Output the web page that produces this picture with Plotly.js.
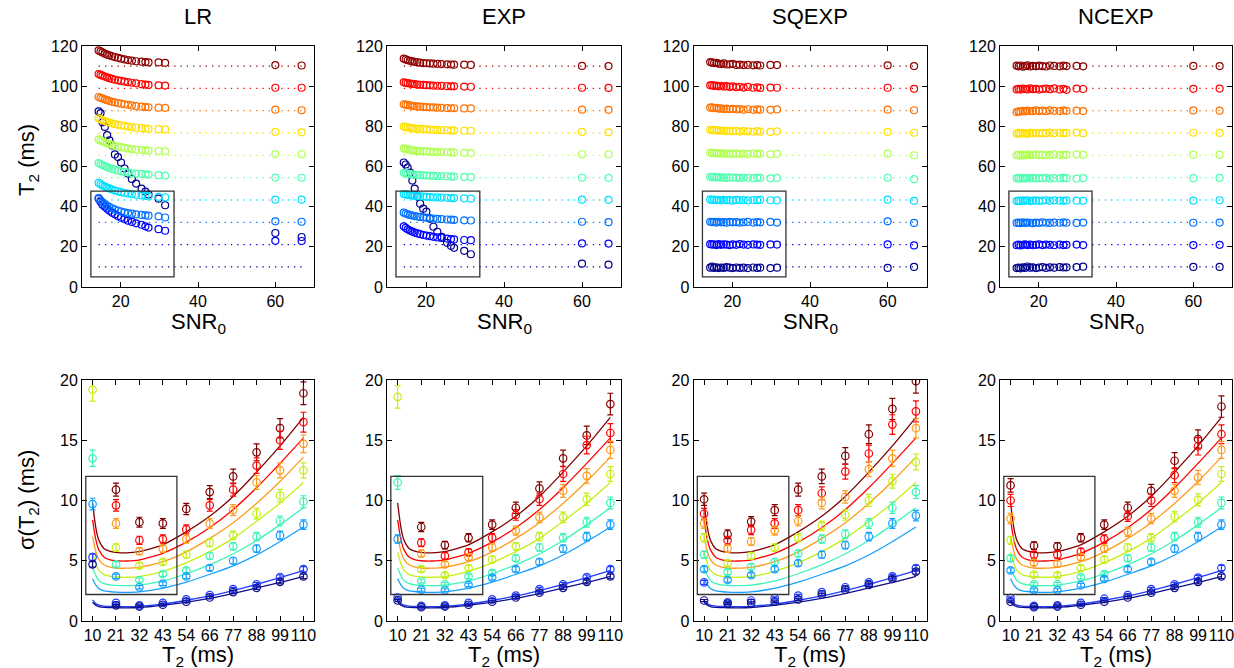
<!DOCTYPE html>
<html>
<head>
<meta charset="utf-8">
<script src="https://cdn.plot.ly/plotly-3.0.1.min.js"></script>
<style>html,body{margin:0;padding:0;background:#fff;}#chart{width:1234px;height:668px;}</style>
</head>
<body>
<div id="chart"></div>
<script>
// ---------- data ----------
const METHODS = ['LR', 'EXP', 'SQEXP', 'NCEXP'];
const SNR0 = [14.3, 14.8, 15.3, 15.9, 16.5, 17.1, 17.8, 18.5, 19.3, 20.1, 21.0, 21.9, 22.9, 24.0, 25.4, 26.4, 27.2, 29.8, 31.5, 60.0, 66.8];
const T2_TRUE = [10, 21.11, 32.22, 43.33, 54.44, 65.56, 76.67, 87.78, 98.89, 110];
const T2_TICKTEXT = ['10', '21', '32', '43', '54', '66', '77', '88', '99', '110'];

// estimated T2 (ms) vs SNR0, one row per true T2 (10 ... 110)
const LR_EST = [
  [87.4, 86.6, 82.0, 79.7, 75.6, 73.0, 70.5, 66.0, 64.7, 62.0, 59.0, 56.5, 53.8, 51.5, 49.0, 47.5, 46.0, 44.0, 40.7, 26.9, 24.9],
  [44.0, 42.5, 41.0, 40.0, 39.0, 38.0, 37.0, 36.2, 35.3, 34.5, 33.8, 33.0, 32.4, 31.7, 31.0, 30.2, 29.6, 28.8, 28.0, 23.0, 22.9],
  [44.3, 43.2, 42.2, 41.3, 40.5, 39.8, 39.2, 38.6, 38.1, 37.6, 37.2, 36.8, 36.5, 36.2, 35.9, 35.7, 35.5, 35.2, 34.6, 32.7, 32.5],
  [51.8, 51.2, 50.6, 50.0, 49.5, 49.0, 48.5, 48.0, 47.6, 47.2, 46.8, 46.5, 46.2, 45.9, 45.6, 45.3, 45.1, 44.9, 44.7, 43.5, 43.5],
  [61.7, 61.2, 60.7, 60.2, 59.7, 59.2, 58.8, 58.4, 58.0, 57.6, 57.3, 57.0, 56.7, 56.5, 56.3, 56.1, 56.0, 55.7, 55.5, 54.5, 54.4],
  [73.5, 73.0, 72.5, 72.0, 71.5, 71.1, 70.7, 70.3, 69.9, 69.6, 69.3, 69.0, 68.7, 68.4, 68.2, 68.0, 67.9, 67.7, 67.6, 66.2, 66.1],
  [84.0, 83.5, 83.0, 82.6, 82.2, 81.8, 81.4, 81.1, 80.8, 80.5, 80.2, 79.9, 79.6, 79.3, 79.1, 78.9, 78.8, 78.6, 78.5, 77.2, 77.0],
  [94.6, 94.2, 93.8, 93.4, 93.0, 92.6, 92.2, 91.9, 91.6, 91.3, 91.0, 90.7, 90.4, 90.1, 89.8, 89.6, 89.5, 89.3, 89.2, 88.3, 88.0],
  [106.0, 105.6, 105.2, 104.8, 104.4, 104.0, 103.6, 103.2, 102.9, 102.6, 102.3, 102.0, 101.7, 101.4, 101.0, 100.8, 100.6, 100.4, 100.3, 99.2, 99.2],
  [117.8, 117.3, 116.8, 116.2, 115.7, 115.3, 114.9, 114.5, 114.1, 113.7, 113.3, 113.0, 112.7, 112.4, 112.2, 112.0, 111.8, 111.8, 111.6, 110.5, 110.3]
];
const EXP_EST = [
  [62.0, 61.0, 59.5, 57.0, 53.0, 49.0, 45.0, 41.5, 39.0, 37.5, 34.0, 30.0, 27.5, 25.0, 22.0, 20.5, 19.5, 18.0, 16.3, 11.6, 11.1],
  [30.2, 29.4, 28.7, 28.1, 27.6, 27.1, 26.7, 26.3, 25.9, 25.6, 25.3, 25.0, 24.7, 24.4, 24.1, 23.9, 23.7, 23.4, 23.3, 21.7, 21.6],
  [37.0, 36.6, 36.2, 35.9, 35.6, 35.3, 35.1, 34.9, 34.7, 34.5, 34.3, 34.1, 33.9, 33.8, 33.6, 33.5, 33.4, 33.2, 33.1, 32.5, 32.3],
  [46.3, 46.1, 45.9, 45.7, 45.5, 45.4, 45.3, 45.1, 45.0, 44.9, 44.8, 44.7, 44.6, 44.5, 44.4, 44.3, 44.3, 44.1, 44.0, 43.5, 43.4],
  [56.9, 56.7, 56.4, 56.2, 56.0, 55.9, 55.8, 55.7, 55.6, 55.5, 55.4, 55.3, 55.2, 55.2, 55.1, 55.0, 55.0, 54.8, 54.7, 54.4, 54.3],
  [69.0, 68.8, 68.5, 68.3, 68.1, 67.9, 67.8, 67.7, 67.6, 67.5, 67.4, 67.3, 67.2, 67.2, 67.1, 67.0, 67.0, 66.8, 66.7, 66.1, 66.1],
  [79.9, 79.7, 79.5, 79.3, 79.1, 78.9, 78.8, 78.7, 78.6, 78.5, 78.4, 78.3, 78.2, 78.1, 78.0, 78.0, 77.9, 77.8, 77.8, 77.2, 77.0],
  [91.0, 90.8, 90.6, 90.4, 90.2, 90.0, 89.9, 89.8, 89.7, 89.6, 89.5, 89.4, 89.3, 89.2, 89.1, 89.0, 89.0, 88.9, 88.9, 88.3, 88.2],
  [101.9, 101.7, 101.5, 101.3, 101.1, 101.0, 100.8, 100.7, 100.6, 100.5, 100.4, 100.3, 100.2, 100.1, 100.0, 99.9, 99.9, 99.8, 99.7, 99.2, 99.1],
  [113.7, 113.3, 112.9, 112.6, 112.3, 112.1, 111.9, 111.7, 111.5, 111.4, 111.3, 111.2, 111.1, 111.0, 110.9, 110.8, 110.7, 110.7, 110.6, 110.1, 110.0]
];
const SQEXP_EST = [
  [9.6, 10.1, 9.5, 9.8, 9.4, 9.7, 9.5, 9.9, 9.6, 9.4, 9.7, 9.5, 9.6, 9.4, 9.7, 9.5, 9.6, 9.4, 9.6, 9.5, 10.0],
  [21.3, 21.1, 21.2, 20.9, 21.3, 21.0, 21.2, 21.1, 20.9, 21.2, 21.0, 21.3, 21.1, 21.0, 21.2, 21.1, 21.0, 21.2, 21.1, 21.2, 20.7],
  [32.5, 32.3, 32.4, 32.1, 32.5, 32.2, 32.3, 32.0, 32.4, 32.2, 32.3, 32.1, 32.2, 32.4, 32.1, 32.3, 32.2, 32.4, 32.1, 32.7, 31.9],
  [43.6, 43.3, 43.5, 43.2, 43.4, 43.1, 43.4, 43.2, 43.3, 43.0, 43.4, 43.2, 43.3, 43.1, 43.3, 43.2, 43.4, 43.2, 43.1, 43.5, 42.9],
  [54.9, 54.6, 54.8, 54.5, 54.7, 54.4, 54.6, 54.3, 54.6, 54.4, 54.5, 54.3, 54.5, 54.4, 54.2, 54.5, 54.3, 54.1, 54.3, 54.4, 53.7],
  [66.9, 66.6, 66.8, 66.5, 66.7, 66.4, 66.6, 66.3, 66.5, 66.2, 66.5, 66.3, 66.4, 66.2, 66.5, 66.3, 66.4, 66.1, 66.3, 66.4, 65.6],
  [78.3, 78.1, 78.2, 77.9, 78.0, 77.8, 77.9, 77.6, 77.8, 77.5, 77.7, 77.4, 77.6, 77.5, 77.3, 77.6, 77.4, 77.2, 77.5, 77.2, 76.8],
  [89.3, 89.4, 89.0, 89.2, 88.8, 88.9, 88.6, 88.8, 88.5, 88.7, 88.4, 88.6, 88.3, 88.5, 88.2, 88.4, 88.3, 88.2, 88.4, 88.3, 88.0],
  [100.4, 100.5, 100.1, 100.3, 99.9, 100.2, 99.8, 100.0, 99.6, 99.9, 99.5, 99.7, 99.3, 99.6, 99.2, 99.4, 99.1, 99.3, 99.2, 99.2, 98.7],
  [112.0, 111.8, 111.5, 111.6, 111.2, 111.0, 111.3, 110.8, 110.9, 111.1, 110.6, 110.7, 110.5, 110.6, 110.4, 110.5, 110.3, 110.6, 110.5, 110.4, 110.0]
];
const NCEXP_EST = [
  [9.4, 9.7, 9.3, 9.8, 9.5, 10.2, 9.6, 9.8, 9.4, 9.7, 9.9, 9.5, 9.8, 9.6, 9.9, 9.7, 9.8, 9.9, 10.1, 10.0, 10.0],
  [20.8, 21.1, 20.7, 21.0, 21.2, 20.9, 21.1, 20.8, 21.0, 21.2, 20.9, 21.1, 21.0, 20.8, 21.1, 20.9, 21.0, 21.1, 20.9, 20.9, 21.0],
  [31.9, 32.1, 31.8, 32.2, 31.9, 32.1, 32.0, 31.8, 32.1, 31.9, 32.2, 32.0, 31.9, 32.1, 32.0, 32.2, 32.0, 31.9, 32.1, 32.0, 32.1],
  [42.8, 43.0, 42.7, 43.1, 42.9, 43.2, 42.8, 43.0, 43.1, 42.9, 43.0, 43.2, 42.9, 43.1, 43.0, 42.9, 43.1, 43.0, 42.9, 43.0, 43.2],
  [54.1, 54.3, 53.9, 54.2, 54.0, 54.4, 54.1, 54.3, 54.0, 54.2, 54.1, 54.3, 54.0, 54.2, 54.1, 54.3, 54.2, 54.0, 54.2, 54.2, 54.3],
  [65.6, 65.9, 65.4, 65.8, 65.5, 66.0, 65.6, 65.8, 66.0, 65.7, 65.9, 65.6, 65.8, 66.0, 65.7, 65.9, 65.8, 66.0, 65.8, 65.9, 65.9],
  [76.4, 76.7, 76.3, 76.8, 76.5, 76.2, 76.7, 76.5, 76.8, 76.4, 76.7, 76.6, 76.9, 76.5, 76.8, 76.6, 76.7, 76.9, 76.6, 76.8, 76.7],
  [87.1, 87.5, 87.3, 87.7, 87.4, 87.8, 87.5, 87.6, 87.9, 87.6, 87.8, 87.5, 87.9, 87.7, 87.6, 87.9, 87.7, 87.8, 87.6, 87.9, 87.8],
  [98.4, 98.7, 98.3, 98.8, 98.6, 98.4, 98.9, 98.5, 98.7, 98.3, 98.6, 98.8, 98.5, 98.9, 98.4, 98.7, 98.2, 98.8, 98.6, 98.7, 98.8],
  [110.2, 109.9, 110.3, 109.7, 110.0, 110.4, 109.8, 110.1, 109.9, 110.2, 110.0, 109.8, 110.3, 110.1, 109.9, 110.2, 110.0, 110.1, 109.9, 110.1, 110.0]
];

// sigma(T2) (ms) vs true T2, one row per SNR series (low SNR first ... high SNR last)
const LR_SD = [
  [null, 10.9, 8.2, 8.1, 9.3, 10.7, 12.0, 14.0, 16.0, 18.9],
  [null, 9.6, 6.7, 6.8, 7.6, 9.6, 10.9, 12.9, 15.0, 16.5],
  [null, 8.1, 5.8, 6.0, 6.8, 8.1, 9.2, 11.5, 12.5, 14.7],
  [19.2, 6.1, 4.6, 4.9, 5.5, 6.5, 7.1, 8.9, 10.4, 12.5],
  [13.5, 4.7, 3.4, 3.9, 4.2, 5.4, 6.2, 7.0, 8.3, 9.9],
  [9.7, 3.7, 2.8, 3.1, 3.7, 4.4, 5.0, 6.0, 7.1, 8.0],
  [5.3, 1.5, 1.3, 1.5, 1.8, 2.15, 2.65, 3.05, 3.65, 4.3],
  [4.7, 1.3, 1.2, 1.35, 1.6, 1.95, 2.4, 2.75, 3.25, 3.7]
];
const EXP_SD = [
  [null, 7.8, 6.3, 6.9, 8.0, 9.4, 11.0, 13.5, 15.4, 18.0],
  [null, 6.5, 5.4, 5.7, 6.9, 8.8, 10.1, 12.2, 14.6, 15.6],
  [null, 5.6, 4.7, 5.3, 6.1, 7.5, 8.6, 10.8, 12.05, 14.2],
  [18.6, 4.3, 3.8, 4.4, 5.1, 6.2, 7.0, 8.6, 10.1, 12.2],
  [11.5, 3.3, 3.05, 3.7, 4.0, 5.2, 6.1, 6.9, 8.2, 9.8],
  [6.8, 2.6, 2.55, 3.0, 3.6, 4.3, 4.9, 6.0, 7.0, 8.0],
  [1.95, 1.25, 1.3, 1.5, 1.8, 2.1, 2.65, 3.05, 3.65, 4.3],
  [1.7, 1.15, 1.2, 1.35, 1.6, 1.95, 2.35, 2.75, 3.25, 3.7]
];
const SQEXP_SD = [
  [10.1, 7.2, 8.25, 9.2, 10.9, 12.0, 13.7, 15.5, 17.6, 19.9],
  [8.9, 6.7, 7.55, 8.1, 9.2, 10.6, 12.4, 13.9, 16.3, 17.4],
  [8.1, 6.0, 6.6, 7.5, 8.3, 9.8, 10.3, 12.6, 13.5, 16.0],
  [6.9, 4.8, 5.4, 6.1, 6.9, 7.9, 8.8, 10.0, 11.6, 13.2],
  [5.5, 4.05, 4.5, 4.9, 5.6, 6.8, 7.2, 8.1, 9.4, 10.7],
  [4.3, 3.4, 3.8, 4.3, 4.8, 5.5, 6.3, 7.0, 8.1, 8.75],
  [3.2, 1.55, 1.7, 1.9, 2.1, 2.4, 2.8, 3.2, 3.7, 4.4],
  [1.7, 1.45, 1.5, 1.6, 1.8, 2.2, 2.6, 3.0, 3.5, 4.1]
];
const NCEXP_SD = [
  [11.25, 6.25, 6.2, 6.9, 8.0, 9.4, 10.8, 13.3, 15.1, 17.8],
  [10.0, 5.5, 5.5, 5.75, 6.8, 8.7, 10.0, 12.1, 14.5, 15.5],
  [8.5, 4.85, 4.75, 5.3, 6.0, 7.4, 8.5, 10.8, 11.9, 14.2],
  [6.7, 3.85, 3.8, 4.4, 5.1, 6.1, 6.9, 8.65, 10.05, 12.2],
  [5.2, 3.05, 3.05, 3.65, 3.9, 5.2, 6.1, 7.0, 8.2, 9.8],
  [4.2, 2.55, 2.55, 2.97, 3.5, 4.3, 4.9, 6.0, 7.0, 8.0],
  [1.9, 1.25, 1.3, 1.5, 1.85, 2.15, 2.65, 3.05, 3.6, 4.4],
  [1.6, 1.15, 1.2, 1.35, 1.6, 1.95, 2.35, 2.75, 3.25, 3.7]
];

// theoretical curves (same in all panels)
const CURVE_T2 = [10, 11.5, 13, 15.5, 18, 21, 26, 32, 43, 54, 66, 77, 88, 99, 110];
const CURVES = [
  [9.8, 7.8, 6.7, 6.0, 5.8, 5.7, 5.65, 5.75, 6.3, 7.35, 8.75, 10.4, 12.4, 14.55, 16.9],
  [8.4, 6.8, 5.9, 5.3, 5.1, 5.0, 4.98, 5.05, 5.6, 6.5, 7.8, 9.3, 11.1, 13.1, 15.2],
  [7.0, 5.8, 5.1, 4.65, 4.5, 4.4, 4.38, 4.45, 4.9, 5.7, 6.9, 8.2, 9.8, 11.6, 13.6],
  [5.7, 4.8, 4.2, 3.85, 3.72, 3.65, 3.63, 3.68, 4.1, 4.8, 5.8, 6.9, 8.3, 9.8, 11.5],
  [4.35, 3.8, 3.35, 3.1, 3.0, 2.95, 2.93, 2.98, 3.3, 3.9, 4.7, 5.6, 6.7, 8.0, 9.4],
  [3.5, 3.0, 2.7, 2.5, 2.45, 2.4, 2.38, 2.42, 2.7, 3.2, 3.9, 4.6, 5.5, 6.6, 7.8],
  [1.75, 1.45, 1.32, 1.24, 1.21, 1.2, 1.19, 1.22, 1.4, 1.7, 2.1, 2.55, 3.05, 3.6, 4.2],
  [1.55, 1.32, 1.2, 1.13, 1.11, 1.1, 1.09, 1.12, 1.3, 1.55, 1.9, 2.3, 2.75, 3.2, 3.7]
];

// inset boxes [x0, x1, y0, y1]
const TOP_BOX = [12.3, 33.8, 5, 47.7];
const BOT_BOX = [6.8, 50, 2.2, 12];

// ---------- styling ----------
const TOP_COLORS = ['#00008f', '#0000ff', '#0070ff', '#00dfff', '#50ffaf', '#afff50', '#ffdf00', '#ff7000', '#ff0000', '#8f0000'];
const BOT_COLORS = ['#800000', '#ff0000', '#ff9b1a', '#c4ef16', '#3cf5b4', '#16a0ff', '#1f3cff', '#10108c'];
const FONT = 'Liberation Sans, Arial, Helvetica, sans-serif';

const EST = [LR_EST, EXP_EST, SQEXP_EST, NCEXP_EST];
const SD = [LR_SD, EXP_SD, SQEXP_SD, NCEXP_SD];

const W = 1234, H = 668;
const XPIX = [[82, 314], [387, 621], [693.5, 926.5], [1000, 1232]];
const TOP_Y = [46, 287], BOT_Y = [380, 621];

const traces = [];
const layout = {
  width: W, height: H,
  margin: {l: 0, r: 0, t: 0, b: 0},
  paper_bgcolor: '#fff', plot_bgcolor: '#fff',
  showlegend: false,
  font: {family: FONT, size: 16, color: '#000'},
  shapes: [], annotations: []
};

function axBase() {
  return {
    showline: true, mirror: 'allticks', linecolor: '#000', linewidth: 1,
    ticks: 'inside', ticklen: 5, tickwidth: 1, tickcolor: '#000',
    showgrid: false, zeroline: false, fixedrange: true,
    tickangle: 0, ticklabeloverflow: 'allow', automargin: false,
    tickfont: {family: FONT, size: 16, color: '#000'}
  };
}

for (let p = 0; p < 4; p++) {
  const xt = p + 1, xb = p + 5;
  const xd = [XPIX[p][0] / W, XPIX[p][1] / W];
  const xs = (n) => n === 1 ? '' : String(n);

  layout['xaxis' + xs(xt)] = Object.assign(axBase(), {
    domain: xd, anchor: 'y' + xs(xt), range: [10, 70], tickvals: [20, 40, 60]
  });
  layout['yaxis' + xs(xt)] = Object.assign(axBase(), {
    domain: [1 - TOP_Y[1] / H, 1 - TOP_Y[0] / H], anchor: 'x' + xs(xt),
    range: [0, 120], tickvals: [0, 20, 40, 60, 80, 100, 120]
  });
  layout['xaxis' + xb] = Object.assign(axBase(), {
    domain: xd, anchor: 'y' + xb, range: [5, 115],
    tickvals: T2_TRUE, ticktext: T2_TICKTEXT
  });
  layout['yaxis' + xb] = Object.assign(axBase(), {
    domain: [1 - BOT_Y[1] / H, 1 - BOT_Y[0] / H], anchor: 'x' + xb,
    range: [0, 20], tickvals: [0, 5, 10, 15, 20]
  });

  // top: dotted truth lines and estimates
  for (let k = 0; k < T2_TRUE.length; k++) {
    traces.push({
      x: [SNR0[0], SNR0[SNR0.length - 1]], y: [T2_TRUE[k], T2_TRUE[k]],
      xaxis: 'x' + xs(xt), yaxis: 'y' + xs(xt), mode: 'lines', hoverinfo: 'skip',
      line: {color: TOP_COLORS[k], width: 1.3, dash: '1.3px,5px'}
    });
  }
  for (let k = 0; k < T2_TRUE.length; k++) {
    traces.push({
      x: SNR0, y: EST[p][k],
      xaxis: 'x' + xs(xt), yaxis: 'y' + xs(xt), mode: 'markers',
      marker: {symbol: 'circle-open', size: 7, color: TOP_COLORS[k], line: {width: 1.2, color: TOP_COLORS[k]}}
    });
  }
  // bottom: curves and measured SD with error bars
  for (let s = 0; s < CURVES.length; s++) {
    traces.push({
      x: CURVE_T2, y: CURVES[s], xaxis: 'x' + xb, yaxis: 'y' + xb,
      mode: 'lines', line: {color: BOT_COLORS[s], width: 1.3, shape: 'spline', smoothing: 0.6},
      hoverinfo: 'skip'
    });
  }
  for (let s = 0; s < CURVES.length; s++) {
    traces.push({
      x: T2_TRUE, y: SD[p][s], xaxis: 'x' + xb, yaxis: 'y' + xb,
      mode: 'markers', cliponaxis: true,
      marker: {symbol: 'circle-open', size: 7.5, color: BOT_COLORS[s], line: {width: 1.2, color: BOT_COLORS[s]}},
      error_y: {type: 'percent', value: 5, color: BOT_COLORS[s], thickness: 1.2, width: 3}
    });
  }

  // inset boxes
  layout.shapes.push({type: 'rect', xref: 'x' + xs(xt), yref: 'y' + xs(xt),
    x0: TOP_BOX[0], x1: TOP_BOX[1], y0: TOP_BOX[2], y1: TOP_BOX[3],
    line: {color: '#333', width: 1.3}});
  layout.shapes.push({type: 'rect', xref: 'x' + xb, yref: 'y' + xb,
    x0: BOT_BOX[0], x1: BOT_BOX[1], y0: BOT_BOX[2], y1: BOT_BOX[3],
    line: {color: '#333', width: 1.3}});

  const cx = (XPIX[p][0] + XPIX[p][1]) / 2 / W;
  layout.annotations.push({text: METHODS[p], xref: 'paper', yref: 'paper', x: cx, y: 1 - 17 / H,
    xanchor: 'center', yanchor: 'middle', showarrow: false, font: {family: FONT, size: 22}});
  layout.annotations.push({text: 'SNR<sub>0</sub>', xref: 'paper', yref: 'paper', x: cx, y: 1 - 307 / H,
    xanchor: 'center', yanchor: 'top', showarrow: false, font: {family: FONT, size: 22}});
  layout.annotations.push({text: 'T<sub>2</sub> (ms)', xref: 'paper', yref: 'paper', x: cx, y: 1 - 640 / H,
    xanchor: 'center', yanchor: 'top', showarrow: false, font: {family: FONT, size: 22}});
}

layout.annotations.push({text: 'T<sub>2</sub> (ms)', xref: 'paper', yref: 'paper', x: 28 / W, y: 1 - 160 / H,
  xanchor: 'center', yanchor: 'middle', textangle: -90, showarrow: false, font: {family: FONT, size: 22}});
layout.annotations.push({text: 'σ(T<sub>2</sub>) (ms)', xref: 'paper', yref: 'paper', x: 28 / W, y: 1 - 500 / H,
  xanchor: 'center', yanchor: 'middle', textangle: -90, showarrow: false, font: {family: FONT, size: 22}});

Plotly.newPlot('chart', traces, layout, {displayModeBar: false, staticPlot: true});
</script>
</body>
</html>
